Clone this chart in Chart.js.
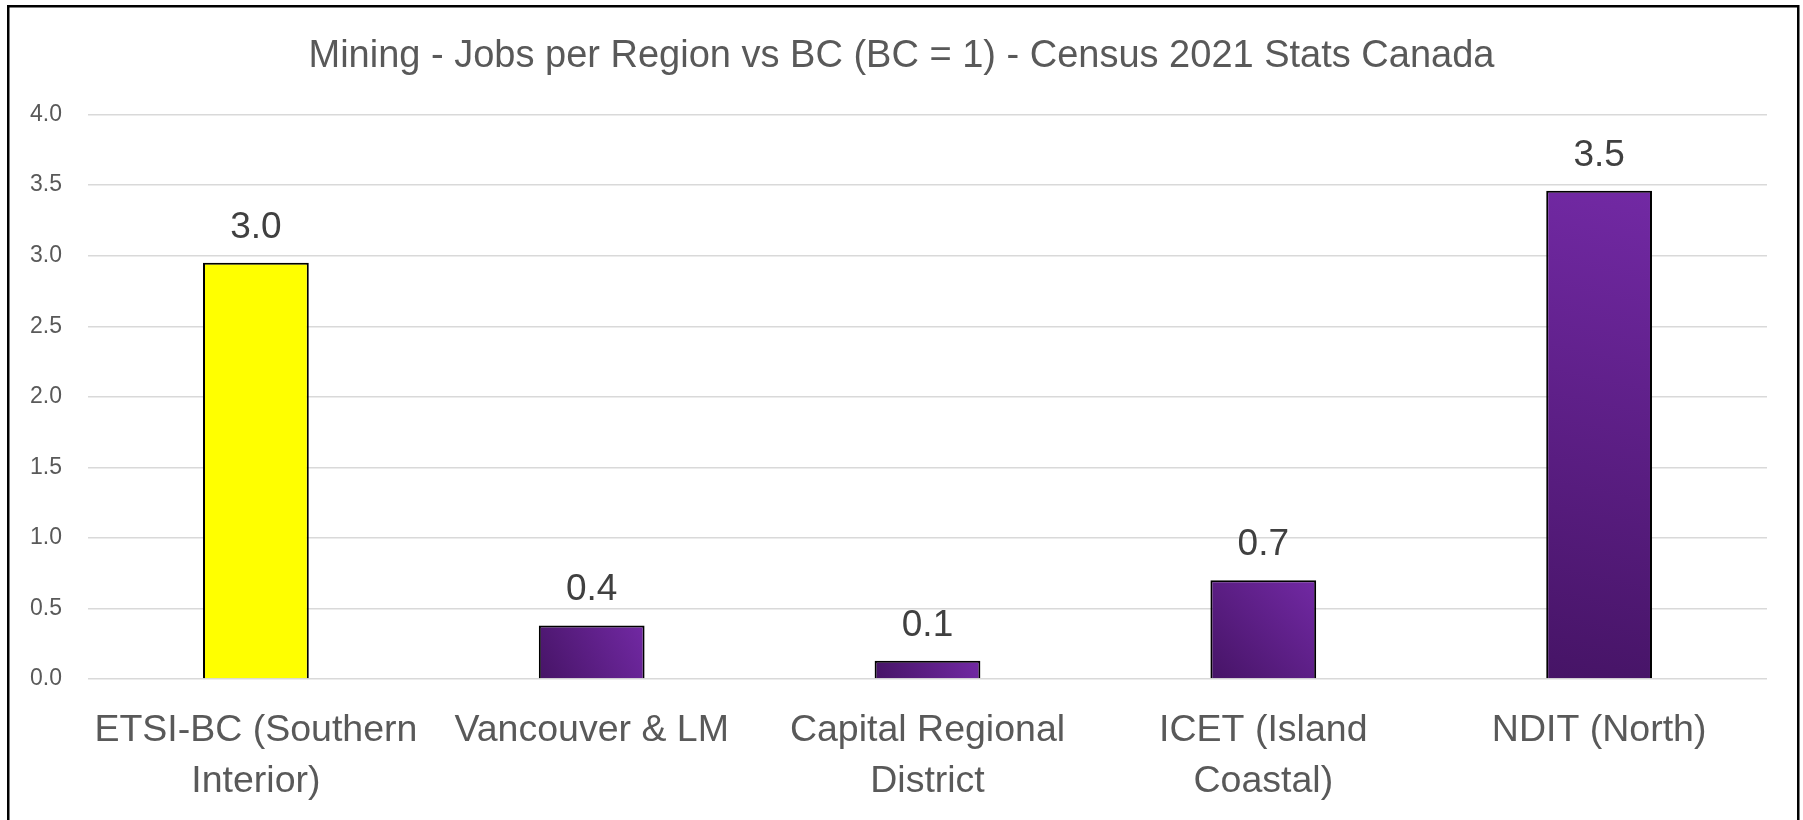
<!DOCTYPE html>
<html>
<head>
<meta charset="utf-8">
<script src="https://cdn.jsdelivr.net/npm/chart.js@4"></script>
<style>
  html, body { margin: 0; padding: 0; background: #fff; }
  #wrap { width: 1803px; height: 820px; }
</style>
</head>
<body>
<div id="wrap"><canvas id="barChart" width="1803" height="820"></canvas></div>
<script>
const regions = [
    ['ETSI-BC (Southern', 'Interior)'],
    'Vancouver & LM',
    ['Capital Regional', 'District'],
    ['ICET (Island', 'Coastal)'],
    'NDIT (North)'
]
const jobsRatio = [2.95, 0.38, 0.13, 0.70, 3.46]
const yTicks = [0, 0.5, 1, 1.5, 2, 2.5, 3, 3.5, 4]

const FONT = "'Liberation Sans', Arial, sans-serif"
const BAR_PCT = 0.315

// per-bar diagonal purple gradient, yellow for the first region
const barFill = (context) => {
    if (context.type !== 'data') return '#7030a0'
    if (context.dataIndex === 0) return '#ffff00'
    const chart = context.chart
    const xs = chart.scales.x
    const ys = chart.scales.y
    if (!xs || !ys) return '#6a24a0'
    const cx = xs.getPixelForValue(context.dataIndex)
    const half = (xs.width / regions.length) * BAR_PCT / 2
    const top = ys.getPixelForValue(context.raw)
    const base = ys.getPixelForValue(0)
    const g = chart.ctx.createLinearGradient(cx - half, base, cx + half, top)
    g.addColorStop(0, '#461466')
    g.addColorStop(1, '#7229a4')
    return g
}

const valueLabels = {
    id: 'valueLabels',
    afterDatasetsDraw(chart) {
        const ctx = chart.ctx
        const meta = chart.getDatasetMeta(0)
        ctx.save()
        ctx.font = `37px ${FONT}`
        ctx.fillStyle = '#404040'
        ctx.textAlign = 'center'
        ctx.textBaseline = 'alphabetic'
        meta.data.forEach((bar, i) => {
            ctx.fillText(jobsRatio[i].toFixed(1), bar.x, bar.y - 25)
        })
        ctx.restore()
    }
}

const frame = {
    id: 'frame',
    afterDraw(chart) {
        const ctx = chart.ctx
        ctx.save()
        ctx.strokeStyle = '#000'
        ctx.lineWidth = 2.5
        ctx.strokeRect(8.25, 6.25, 1790, 840)
        ctx.restore()
    }
}

new Chart('barChart', {
    type: 'bar',
    data: {
        labels: regions,
        datasets: [{
            data: jobsRatio,
            backgroundColor: barFill,
            borderColor: '#000',
            borderWidth: 2,
            categoryPercentage: 1,
            barPercentage: BAR_PCT
        }]
    },
    options: {
        responsive: false,
        animation: false,
        layout: { padding: 0 },
        plugins: {
            legend: { display: false },
            tooltip: { enabled: false },
            title: {
                display: true,
                text: 'Mining - Jobs per Region vs BC (BC = 1) - Census 2021 Stats Canada',
                color: '#595959',
                font: { family: FONT, size: 38, weight: 'normal' },
                padding: { top: 34, bottom: 35 }
            }
        },
        scales: {
            y: {
                min: 0,
                max: 4,
                afterBuildTicks: (axis) => { axis.ticks = yTicks.map(v => ({ value: v })) },
                afterFit: (axis) => { axis.width = 88 },
                border: { display: false },
                grid: { color: '#d9d9d9', lineWidth: 1.5, drawTicks: false },
                ticks: {
                    padding: 26,
                    color: '#595959',
                    font: { family: FONT, size: 23 },
                    callback: (v) => v.toFixed(1)
                }
            },
            // empty right-hand spacer so the title stays centred on the canvas
            yRight: {
                position: 'right',
                afterFit: (axis) => { axis.width = 36 },
                border: { display: false },
                grid: { display: false, drawTicks: false },
                ticks: { display: false }
            },
            x: {
                afterFit: (axis) => { axis.height = 141 },
                border: { display: false },
                grid: { display: false, drawTicks: false },
                ticks: {
                    padding: 26,
                    color: '#595959',
                    maxRotation: 0,
                    autoSkip: false,
                    font: { family: FONT, size: 37.5, lineHeight: 1.37 }
                }
            }
        }
    },
    plugins: [valueLabels, frame]
})
</script>
</body>
</html>
